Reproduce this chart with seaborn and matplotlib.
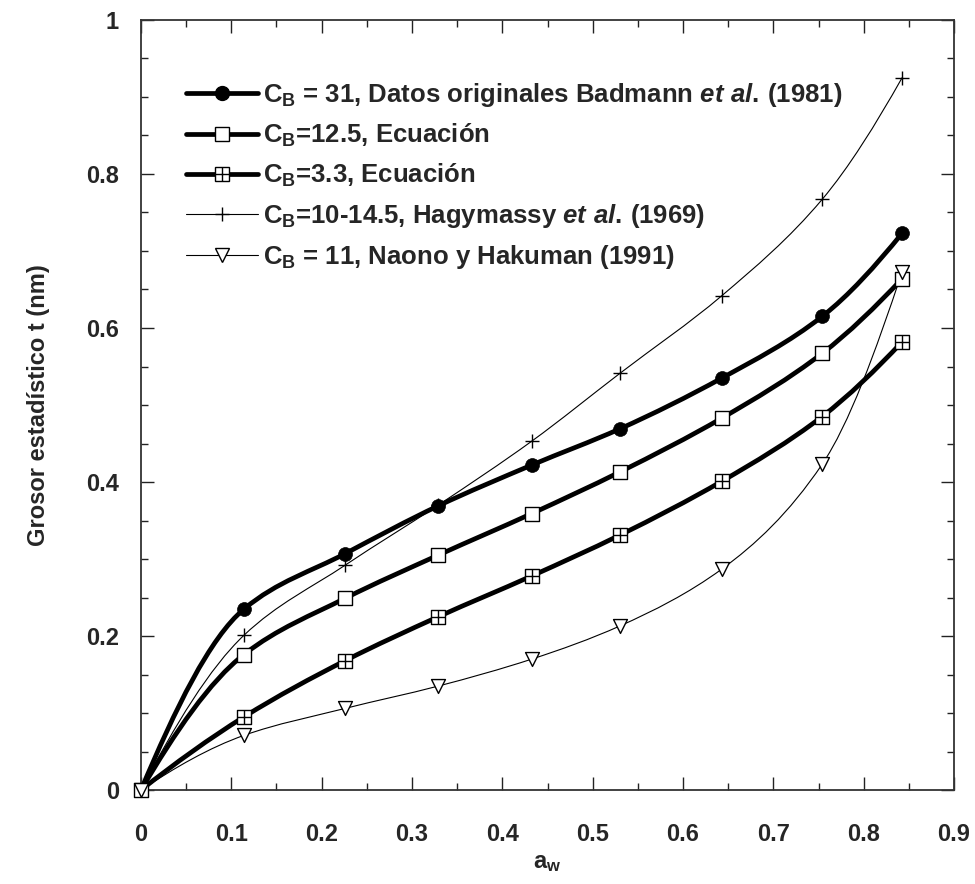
import numpy as np
import matplotlib
matplotlib.use("Agg")
import matplotlib.pyplot as plt
from matplotlib.path import Path
from matplotlib.patches import PathPatch
from matplotlib.lines import Line2D
from matplotlib.legend_handler import HandlerTuple
from matplotlib.ticker import MultipleLocator, FuncFormatter
import seaborn as sns

# Water activity and statistical thickness t (nm) for each isotherm
aw = [0, 0.114, 0.226, 0.329, 0.4325, 0.53, 0.643, 0.754, 0.8425]
t_badmann = [0, 0.235, 0.307, 0.369, 0.422, 0.469, 0.535, 0.615, 0.723]
t_cb125 = [0, 0.176, 0.249, 0.305, 0.359, 0.413, 0.483, 0.567, 0.664]
t_cb33 = [0, 0.095, 0.168, 0.225, 0.278, 0.331, 0.401, 0.485, 0.582]
t_hagy = [0, 0.201, 0.292, 0.370, 0.453, 0.541, 0.642, 0.767, 0.925]
t_naono = [0, 0.071, 0.106, 0.135, 0.170, 0.213, 0.287, 0.423, 0.673]

labels = [
    r"C$_\mathrm{B}$ = 31, Datos originales Badmann $\mathit{et\ al.}\,$(1981)",
    r"C$_\mathrm{B}$=12.5, Ecuación",
    r"C$_\mathrm{B}$=3.3, Ecuación",
    r"C$_\mathrm{B}$=10-14.5, Hagymassy $\mathit{et\ al.}\,$(1969)",
    r"C$_\mathrm{B}$ = 11, Naono y Hakuman (1991)",
]

sns.set_style("ticks")
plt.rcParams["font.family"] = ["Liberation Sans", "DejaVu Sans"]
plt.rcParams["font.weight"] = "bold"
plt.rcParams["mathtext.fontset"] = "custom"
plt.rcParams["mathtext.rm"] = "Liberation Sans:bold"
plt.rcParams["mathtext.bf"] = "Liberation Sans:bold"
plt.rcParams["mathtext.it"] = "Liberation Sans:italic:bold"
plt.rcParams["mathtext.default"] = "rm"


def pchip_slopes(x, y):
    x = np.asarray(x, float)
    y = np.asarray(y, float)
    h = np.diff(x)
    d = np.diff(y) / h
    m = np.zeros_like(y)
    for k in range(1, len(x) - 1):
        if d[k - 1] * d[k] <= 0:
            m[k] = 0.0
        else:
            w1 = 2 * h[k] + h[k - 1]
            w2 = h[k] + 2 * h[k - 1]
            m[k] = (w1 + w2) / (w1 / d[k - 1] + w2 / d[k])
    m[0] = ((2 * h[0] + h[1]) * d[0] - h[0] * d[1]) / (h[0] + h[1])
    m[-1] = ((2 * h[-1] + h[-2]) * d[-1] - h[-1] * d[-2]) / (h[-1] + h[-2])
    return m


def smooth_path(x, y):
    """Cubic Bezier path through the data points."""
    m = pchip_slopes(x, y)
    verts = [(x[0], y[0])]
    codes = [Path.MOVETO]
    for k in range(len(x) - 1):
        h = x[k + 1] - x[k]
        verts += [(x[k] + h / 3, y[k] + m[k] * h / 3),
                  (x[k + 1] - h / 3, y[k + 1] - m[k + 1] * h / 3),
                  (x[k + 1], y[k + 1])]
        codes += [Path.CURVE4] * 3
    return Path(verts, codes)


fig = plt.figure(figsize=(9.75, 8.84), dpi=100)
ax = fig.add_axes([0.1446, 0.1063, 0.8339, 0.8711])

thick, thin = 3.4, 0.8
series = [
    (t_badmann, thick),
    (t_cb125, thick),
    (t_cb33, thick),
    (t_hagy, thin),
    (t_naono, thin),
]
for yv, lw in series:
    ax.add_patch(PathPatch(smooth_path(aw, yv), facecolor="none",
                           edgecolor="black", lw=lw, zorder=2,
                           capstyle="round", joinstyle="round"))

ms = 10
# markers (the origin is marked only for two of the series)
sns.scatterplot(x=aw[1:], y=t_badmann[1:], ax=ax, marker="o", s=ms ** 2,
                color="black", edgecolor="black", linewidth=0.5, zorder=4)
sns.scatterplot(x=aw, y=t_cb125, ax=ax, marker="s", s=ms ** 2,
                color="white", edgecolor="black", linewidth=1.0, zorder=4,
                clip_on=False)
sns.scatterplot(x=aw[1:], y=t_cb33[1:], ax=ax, marker="s", s=9.5 ** 2,
                color="white", edgecolor="black", linewidth=1.0, zorder=4)
sns.scatterplot(x=aw[1:], y=t_cb33[1:], ax=ax, marker="+", s=9.5 ** 2,
                color="black", linewidth=1.0, zorder=5)
sns.scatterplot(x=aw[1:], y=t_hagy[1:], ax=ax, marker="+", s=ms ** 2,
                color="black", linewidth=1.0, zorder=4)
sns.scatterplot(x=aw, y=t_naono, ax=ax, marker="v", s=ms ** 2,
                color="white", edgecolor="black", linewidth=1.0, zorder=5,
                clip_on=False)

ax.set_xlim(0, 0.9)
ax.set_ylim(0, 1)
ax.xaxis.set_major_locator(MultipleLocator(0.1))
ax.xaxis.set_minor_locator(MultipleLocator(0.05))
ax.yaxis.set_major_locator(MultipleLocator(0.2))
ax.yaxis.set_minor_locator(MultipleLocator(0.05))
fmt = FuncFormatter(lambda v, p: f"{v:g}")
ax.xaxis.set_major_formatter(fmt)
ax.yaxis.set_major_formatter(fmt)

ax.tick_params(which="both", direction="in", top=True, right=True,
               width=1.0, color="#222222")
ax.tick_params(which="major", length=9.5, labelsize=17)
ax.tick_params(which="minor", length=5)
ax.tick_params(axis="x", which="major", pad=24)
ax.tick_params(axis="y", which="major", pad=16)
for lab in ax.get_xticklabels() + ax.get_yticklabels():
    lab.set_fontweight("bold")
for sp in ax.spines.values():
    sp.set_linewidth(1.3)
    sp.set_color("#333333")

ax.set_xlabel(r"a$_\mathrm{w}$", fontsize=17, fontweight="bold", labelpad=3)
ax.set_ylabel("Grosor estadístico t (nm)", fontsize=17, fontweight="bold",
              labelpad=26)

# legend
h1 = Line2D([], [], color="black", lw=thick, marker="o", ms=ms,
            mfc="black", mec="black")
h2 = Line2D([], [], color="black", lw=thick, marker="s", ms=ms,
            mfc="white", mec="black", mew=1.0)
h3a = Line2D([], [], color="black", lw=thick, marker="s", ms=9.5,
             mfc="white", mec="black", mew=1.0)
h3b = Line2D([], [], color="black", lw=0, marker="+", ms=9.5, mew=1.0)
h4 = Line2D([], [], color="black", lw=thin, marker="+", ms=ms, mew=1.0)
h5 = Line2D([], [], color="black", lw=thin, marker="v", ms=ms,
            mfc="white", mec="black", mew=1.0)
ax.legend([h1, h2, (h3a, h3b), h4, h5], labels,
          handler_map={tuple: HandlerTuple(ndivide=1, pad=0)},
          loc="upper left", bbox_to_anchor=(0.055, 0.921), frameon=False,
          prop={"weight": "bold", "size": 18.5},
          handlelength=2.8, handletextpad=0.2, labelspacing=0.5,
          borderpad=0, borderaxespad=0)

fig.savefig("out.png", dpi=100)
